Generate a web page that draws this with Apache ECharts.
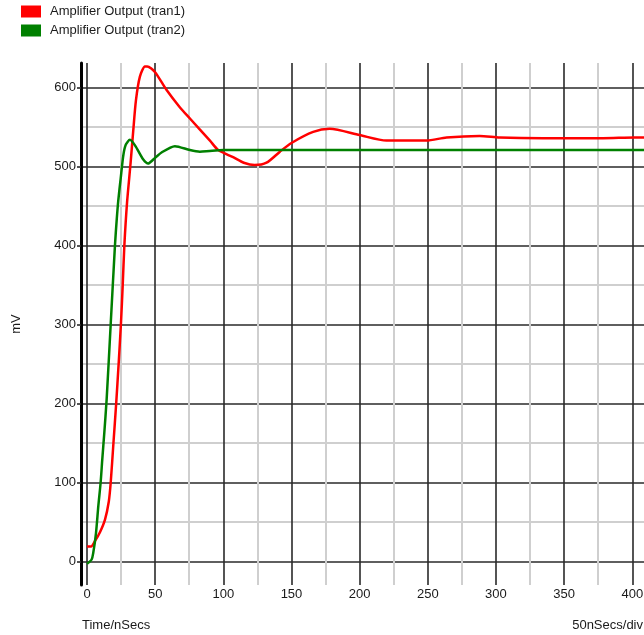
<!DOCTYPE html>
<html>
<head>
<meta charset="utf-8">
<script src="https://cdn.jsdelivr.net/npm/echarts@6/dist/echarts.min.js"></script>
<style>
html,body{margin:0;padding:0;background:#fff;}
#chart{width:644px;height:635px;}
</style>
</head>
<body>
<div id="chart"></div>
<script>
// ---- data ----
const seriesNames = ['Amplifier Output (tran1)', 'Amplifier Output (tran2)'];
const tran1X = [0, 3, 5.9, 9.5, 13.2, 16.0, 17.4, 19.4, 21.4, 23.2, 24.9, 26.2, 27.4, 29.4, 32.0, 33.9, 35.9, 38.8, 42.5, 44.2, 49.8, 58.4, 68.2, 75.5, 90.2, 96.3, 107.2, 115, 123, 131.7, 141.5, 150, 165.9, 178, 200, 219.7, 249, 263.7, 288, 302.7, 334.5, 378.5, 401.7, 408.6];
const tran1Y = [19, 19, 26, 37, 53, 76, 100, 150, 200, 250, 301, 350, 400, 455, 505, 545, 584, 614, 627, 627, 620, 597, 575, 561, 533, 521, 512, 505, 502, 505, 519, 530, 544, 548, 540, 533, 533, 537, 539, 537, 536, 536, 537, 537];
const tran2X = [0, 3.4, 4.6, 6.6, 8.3, 10, 11.2, 12.7, 14.4, 17.4, 20.5, 21.8, 23.0, 24.7, 26.7, 28.5, 31.5, 35.2, 41.3, 44.9, 48.6, 54.7, 64.5, 75.5, 82.8, 90, 100, 408.6];
const tran2Y = [-3, 2.5, 11, 36, 70, 100, 129, 163, 205, 301, 400, 433, 458, 485, 515, 528, 534, 527, 509, 504, 509, 518, 526, 521, 519, 520, 521, 521];
const xMajorTicks = [0, 50, 100, 150, 200, 250, 300, 350, 400];
const xMinorTicks = [25, 75, 125, 175, 225, 275, 325, 375];
const yMajorTicks = [0, 100, 200, 300, 400, 500, 600];
const yMinorTicks = [50, 150, 250, 350, 450, 550];
const xRange = [-4.4, 408.6];
const yRange = [-29.8, 631.3];
const xTitle = 'Time/nSecs';
const xDivTitle = '50nSecs/div';
const yTitle = 'mV';

// ---- chart ----
const FONT = '"Liberation Sans", Arial, sans-serif';
const TXT = '#1a1a1a';
const MAJOR = '#2a2a2a';
const MINOR = '#cfcfcf';
const zip = (xs, ys) => xs.map((x, i) => [x, ys[i]]);

const chart = echarts.init(document.getElementById('chart'), null, {renderer: 'canvas'});
chart.setOption({
  animation: false,
  backgroundColor: '#ffffff',
  textStyle: {fontFamily: FONT},
  legend: {
    orient: 'vertical', left: 21, top: 5, padding: 0,
    icon: 'rect', itemWidth: 20, itemHeight: 12, itemGap: 6,
    textStyle: {fontFamily: FONT, fontSize: 13, color: TXT, padding: [0, 0, 0, 4]},
    data: seriesNames
  },
  title: [
    {text: xTitle, left: 82, top: 619, textStyle: {fontFamily: FONT, fontSize: 13, fontWeight: 'normal', color: TXT}, padding: 0},
    {text: xDivTitle, right: 1, top: 619, textStyle: {fontFamily: FONT, fontSize: 13, fontWeight: 'normal', color: TXT}, padding: 0}
  ],
  grid: {left: 81, right: 0, top: 63, bottom: 50, containLabel: false, outerBoundsMode: 'none'},
  xAxis: [
    {
      type: 'value', min: xRange[0], max: xRange[1], position: 'bottom',
      axisLine: {show: false}, axisTick: {show: false, customValues: xMinorTicks},
      axisLabel: {show: false}, splitLine: {show: true, lineStyle: {color: MINOR, width: 2}}
    },
    {
      type: 'value', min: xRange[0], max: xRange[1], position: 'bottom',
      axisLine: {show: false}, axisTick: {show: false, customValues: xMajorTicks},
      axisLabel: {customValues: xMajorTicks, margin: 3, fontFamily: FONT, fontSize: 13, color: TXT},
      splitLine: {show: true, lineStyle: {color: MAJOR, width: 1.6}}
    }
  ],
  yAxis: [
    {
      type: 'value', min: yRange[0], max: yRange[1],
      axisLine: {show: false}, axisTick: {show: false, customValues: yMinorTicks},
      axisLabel: {show: false}, splitLine: {show: true, lineStyle: {color: MINOR, width: 2}}
    },
    {
      type: 'value', min: yRange[0], max: yRange[1], position: 'left',
      name: yTitle, nameLocation: 'middle', nameRotate: 90, nameGap: 58, nameMoveOverlap: false,
      nameTextStyle: {fontFamily: FONT, fontSize: 13, color: TXT},
      axisLine: {show: true, onZero: false, lineStyle: {color: '#000', width: 3}},
      axisTick: {show: true, length: 4, inside: false, customValues: yMajorTicks, lineStyle: {color: MAJOR, width: 1.6}},
      axisLabel: {customValues: yMajorTicks, margin: 5, fontFamily: FONT, fontSize: 13, color: TXT},
      splitLine: {show: true, lineStyle: {color: MAJOR, width: 1.6}}
    }
  ],
  series: [
    {
      name: seriesNames[0], type: 'line', xAxisIndex: 1, yAxisIndex: 1,
      data: zip(tran1X, tran1Y), showSymbol: false, symbol: 'none', smooth: 0.25,
      color: '#ff0000', lineStyle: {color: '#ff0000', width: 2.5}, z: 5
    },
    {
      name: seriesNames[1], type: 'line', xAxisIndex: 1, yAxisIndex: 1,
      data: zip(tran2X, tran2Y), showSymbol: false, symbol: 'none', smooth: 0.25,
      color: '#008000', lineStyle: {color: '#008000', width: 2.5}, z: 6
    }
  ]
});
</script>
</body>
</html>
